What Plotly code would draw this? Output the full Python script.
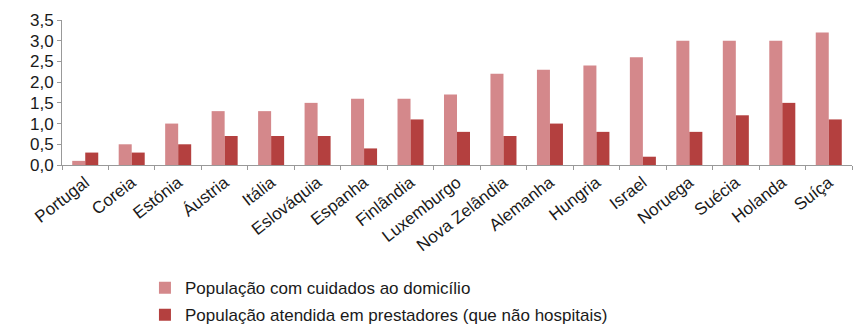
import plotly.graph_objects as go

categories = ["Portugal", "Coreia", "Estónia", "Áustria", "Itália", "Eslováquia", "Espanha",
              "Finlândia", "Luxemburgo", "Nova Zelândia", "Alemanha", "Hungria", "Israel",
              "Noruega", "Suécia", "Holanda", "Suíça"]
domicilio = [0.1, 0.5, 1.0, 1.3, 1.3, 1.5, 1.6, 1.6, 1.7, 2.2, 2.3, 2.4, 2.6, 3.0, 3.0, 3.0, 3.2]
prestadores = [0.3, 0.3, 0.5, 0.7, 0.7, 0.7, 0.4, 1.1, 0.8, 0.7, 1.0, 0.8, 0.2, 0.8, 1.2, 1.5, 1.1]
yticks = [0, 0.5, 1.0, 1.5, 2.0, 2.5, 3.0, 3.5]

fig = go.Figure()
fig.add_trace(go.Bar(x=categories, y=domicilio, name="População com cuidados ao domicílio",
                     legendgroup="a",
                     marker=dict(color="#d4888b", line=dict(width=0))))
fig.add_trace(go.Bar(x=categories, y=prestadores, name="População atendida em prestadores (que não hospitais)",
                     legendgroup="b",
                     marker=dict(color="#b4403f", line=dict(width=0))))

fig.update_layout(
    width=853, height=324,
    margin=dict(l=62, r=1, t=20, b=159, autoexpand=False),
    paper_bgcolor="white", plot_bgcolor="white",
    barmode="group", bargap=0.44, bargroupgap=0,
    separators=",.",
    font=dict(family="Liberation Sans, Arial, sans-serif", color="#1a1a1a"),
    showlegend=True,
    legend=dict(orientation="v", x=0.105, y=-0.725, xanchor="left", yanchor="top",
                font=dict(size=17, color="#1a1a1a"), tracegroupgap=2,
                traceorder="grouped", itemwidth=30),
    xaxis=dict(showline=True, linecolor="#999999", linewidth=1, ticks="outside",
               tickson="boundaries", ticklen=4, tickcolor="#999999", tickangle=-38,
               tickfont=dict(size=17, color="#1a1a1a"), showgrid=False, automargin=False),
    yaxis=dict(range=[0, 3.5], tickvals=yticks, tickformat=".1f", showline=True,
               linecolor="#999999", linewidth=1, ticks="outside", ticklen=4,
               tickcolor="#999999", showgrid=False, zeroline=False, automargin=False,
               tickfont=dict(size=17, color="#1a1a1a")),
)

fig.write_html("out.html")
